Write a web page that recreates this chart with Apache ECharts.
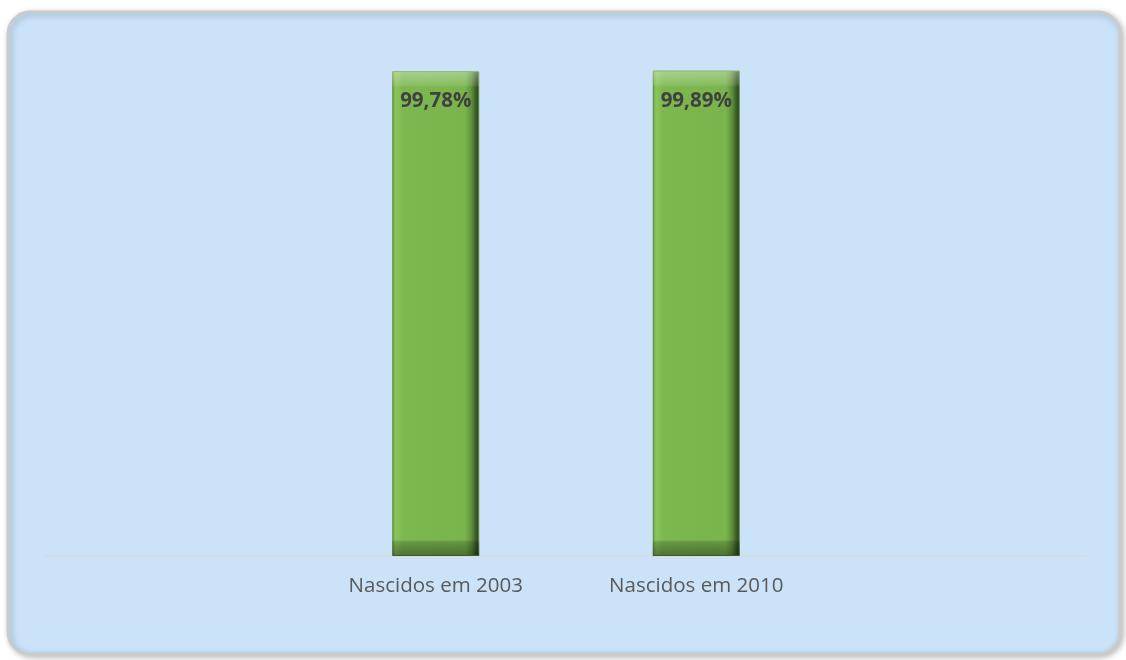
<!DOCTYPE html>
<html><head><meta charset="utf-8">
<script src="https://cdn.jsdelivr.net/npm/echarts@6/dist/echarts.min.js"></script>
<style>html,body{margin:0;padding:0;background:#fff}#c{width:1126px;height:660px}</style>
</head><body><div id="c"></div>
<script>
const categories = ['', 'Nascidos em 2003', 'Nascidos em 2010', ''];
const values = [null, 99.78, 99.89, null];
const yMin = 0, yMax = 100;

const chart = echarts.init(document.getElementById('c'), null, {renderer: 'canvas'});
const barColor = new echarts.graphic.LinearGradient(0, 0, 1, 0, [
  {offset: 0, color: '#6ea544'},
  {offset: 0.04, color: '#8cc45c'},
  {offset: 0.12, color: '#7cb84f'},
  {offset: 0.84, color: '#79b44c'},
  {offset: 0.91, color: '#5f913d'},
  {offset: 0.96, color: '#3c5e26'},
  {offset: 1, color: '#25391a'}
]);
const bevel = new echarts.graphic.LinearGradient(0, 0, 0, 1, [
  {offset: 0, color: 'rgba(255,255,255,0.35)'},
  {offset: 0.028, color: 'rgba(255,255,255,0.12)'},
  {offset: 0.034, color: 'rgba(255,255,255,0)'},
  {offset: 0.966, color: 'rgba(0,0,0,0)'},
  {offset: 0.972, color: 'rgba(0,0,0,0.18)'},
  {offset: 1, color: 'rgba(0,0,0,0.38)'}
]);
const fmt = p => p.value == null ? '' : p.value.toFixed(2).replace('.', ',') + '%';
chart.setOption({
  animation: false,
  graphic: [{
    type: 'rect', z: -10,
    shape: {x: 8, y: 12, width: 1112, height: 642, r: 22},
    style: {fill: '#cae3f9', stroke: '#c9cbcd', lineWidth: 3,
      shadowBlur: 6, shadowColor: 'rgba(0,0,0,0.25)', shadowOffsetX: 2, shadowOffsetY: 2}
  }],
  grid: {left: 45, right: 39, top: 70, bottom: 104, containLabel: false},
  xAxis: {
    type: 'category', data: categories,
    axisLine: {lineStyle: {color: '#d9d9d9', width: 1.5}},
    axisTick: {show: false},
    axisLabel: {color: '#595959', fontSize: 20.5, fontFamily: 'Open Sans', margin: 20}
  },
  yAxis: {type: 'value', min: yMin, max: yMax, show: false, splitLine: {show: false}},
  series: [{
    type: 'bar', data: values, barWidth: 87,
    itemStyle: {color: barColor, borderColor: '#5e8f3a', borderWidth: 1}
  }, {
    type: 'bar', data: values, barWidth: 87, barGap: '-100%',
    itemStyle: {color: bevel},
    label: {
      show: true, position: 'insideTop', distance: 20,
      color: '#404040', fontWeight: 'bold', fontSize: 20.5, fontFamily: 'Open Sans',
      formatter: fmt
    }
  }]
});
</script></body></html>
